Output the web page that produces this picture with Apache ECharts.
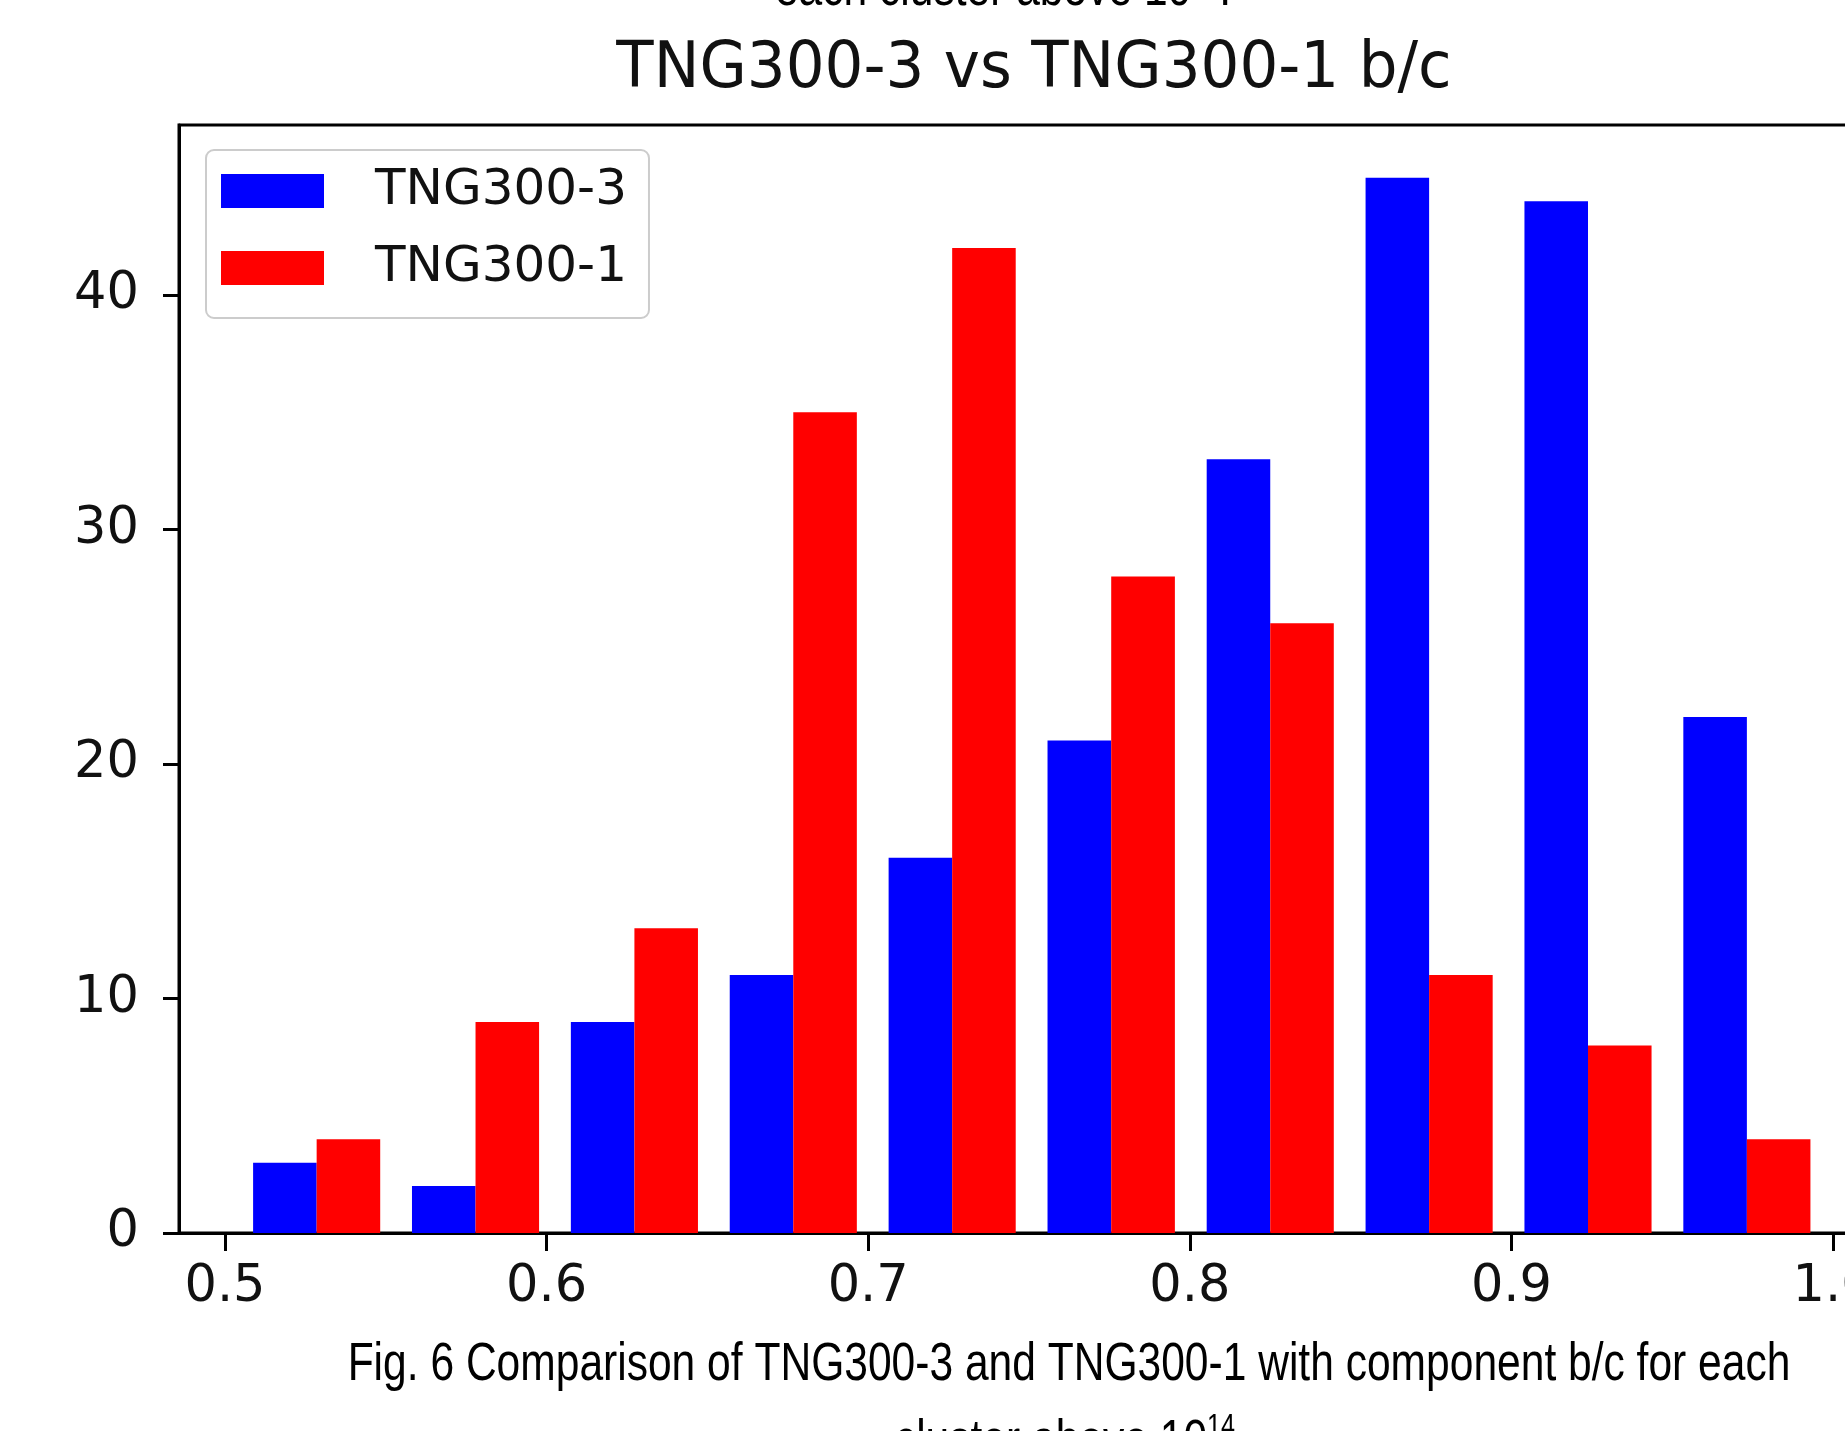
<!DOCTYPE html>
<html>
<head>
<meta charset="utf-8">
<script src="https://cdn.jsdelivr.net/npm/echarts@6/dist/echarts.min.js"></script>
<style>
  html, body { margin: 0; padding: 0; background: #ffffff; }
  #chart { width: 1845px; height: 1431px; }
</style>
</head>
<body>
<div id="chart"></div>
<script>
// ---- data ----
var seriesNames = ['TNG300-3', 'TNG300-1'];
var binEdges = [0.5038, 0.5532, 0.6026, 0.6520, 0.7014, 0.7508, 0.8003, 0.8497, 0.8991, 0.9485, 0.9979];
var tng3Counts = [3, 2, 9, 11, 16, 21, 33, 45, 44, 22];
var tng1Counts = [4, 9, 13, 35, 42, 28, 26, 11, 8, 4];
var xTicks = [0.5, 0.6, 0.7, 0.8, 0.9, 1.0];
var yTicks = [0, 10, 20, 30, 40];
var titleText = 'TNG300-3 vs TNG300-1 b/c';
var topText = 'each cluster above 10';
var captionLine1 = 'Fig. 6 Comparison of TNG300-3 and TNG300-1 with component b/c for each';
var captionLine2 = 'cluster above 10';
var superscript = '14';

// matplotlib grouped histogram: each bin holds two bars of 0.4 bin width, starting at 0.1
function barData(counts, offset) {
  var out = [];
  for (var i = 0; i < counts.length; i++) {
    var w = binEdges[i + 1] - binEdges[i];
    out.push([binEdges[i] + (0.1 + offset) * w, binEdges[i] + (0.5 + offset) * w, counts[i]]);
  }
  return out;
}

function renderBar(params, api) {
  var p0 = api.coord([api.value(0), api.value(2)]);
  var p1 = api.coord([api.value(1), 0]);
  return {
    type: 'rect',
    shape: { x: p0[0], y: p0[1], width: p1[0] - p0[0], height: p1[1] - p0[1] },
    style: api.style()
  };
}

var mplFont = '"DejaVu Sans", sans-serif';
var docFont = '"Liberation Sans", Arial, sans-serif';

var chart = echarts.init(document.getElementById('chart'), null, { renderer: 'canvas' });
chart.setOption({
  animation: false,
  backgroundColor: '#ffffff',
  grid: {
    left: 179, top: 125, width: 1711, height: 1108,
    outerBoundsMode: 'none',
    containLabel: false,
    show: true, borderColor: '#000000', borderWidth: 3, backgroundColor: '#ffffff'
  },
  legend: {
    orient: 'vertical',
    left: 206, top: 150,
    padding: [14, 22, 23, 15],
    itemWidth: 103, itemHeight: 34, itemGap: 23,
    backgroundColor: 'rgba(255,255,255,0.8)',
    borderColor: '#cccccc', borderWidth: 2, borderRadius: 8,
    data: [{ name: seriesNames[0], icon: 'rect' }, { name: seriesNames[1], icon: 'rect' }],
    textStyle: {
      fontFamily: mplFont, fontSize: 50, lineHeight: 54, color: '#111111',
      padding: [0, 0, 0, 46]
    }
  },
  xAxis: {
    type: 'value', min: 0.4857, max: 1.0177,
    splitLine: { show: false },
    axisLine: { show: true, onZero: false, lineStyle: { color: '#000000', width: 3 } },
    axisTick: { show: true, length: 18, lineStyle: { color: '#000000', width: 3 }, customValues: xTicks },
    axisLabel: {
      customValues: xTicks, margin: 28, hideOverlap: false,
      fontFamily: mplFont, fontSize: 51, lineHeight: 54, color: '#111111',
      formatter: function (v) { return v.toFixed(1); }
    }
  },
  yAxis: {
    type: 'value', min: 0, max: 47.25,
    splitLine: { show: false },
    axisLine: { show: true, lineStyle: { color: '#000000', width: 3 } },
    axisTick: { show: true, length: 16, lineStyle: { color: '#000000', width: 3 }, customValues: yTicks },
    axisLabel: {
      customValues: yTicks, margin: 40,
      fontFamily: mplFont, fontSize: 51, lineHeight: 54, color: '#111111'
    }
  },
  series: [
    {
      name: seriesNames[0], type: 'custom', renderItem: renderBar,
      itemStyle: { color: '#0000ff' },
      encode: { x: [0, 1], y: 2 },
      data: barData(tng3Counts, 0)
    },
    {
      name: seriesNames[1], type: 'custom', renderItem: renderBar,
      itemStyle: { color: '#ff0000' },
      encode: { x: [0, 1], y: 2 },
      data: barData(tng1Counts, 0.4)
    }
  ],
  graphic: [
    {
      type: 'text', x: 1034, y: 70, scaleX: 0.955,
      style: {
        text: titleText, fontFamily: mplFont, fontSize: 64,
        fill: '#111111', align: 'center', verticalAlign: 'middle'
      }
    },
    {
      type: 'text', x: 1003, y: -10, scaleX: 0.788,
      style: {
        text: '{n|' + topText + '}{s|' + superscript + '}{n|.}',
        align: 'center', verticalAlign: 'middle', fill: '#000000',
        rich: {
          n: { fontFamily: docFont, fontSize: 54, lineHeight: 62, fill: '#000000' },
          s: { fontFamily: docFont, fontSize: 32, lineHeight: 32, verticalAlign: 'top', fill: '#000000' }
        }
      }
    },
    {
      type: 'text', x: 1069, y: 1365, scaleX: 0.788,
      style: {
        text: captionLine1, fontFamily: docFont, fontSize: 54,
        fill: '#000000', align: 'center', verticalAlign: 'middle'
      }
    },
    {
      type: 'text', x: 1065, y: 1442, scaleX: 0.788,
      style: {
        text: '{n|' + captionLine2 + '}{s|' + superscript + '}',
        align: 'center', verticalAlign: 'middle', fill: '#000000',
        rich: {
          n: { fontFamily: docFont, fontSize: 54, lineHeight: 62, fill: '#000000' },
          s: { fontFamily: docFont, fontSize: 32, lineHeight: 32, verticalAlign: 'top', fill: '#000000' }
        }
      }
    }
  ]
});
</script>
</body>
</html>
